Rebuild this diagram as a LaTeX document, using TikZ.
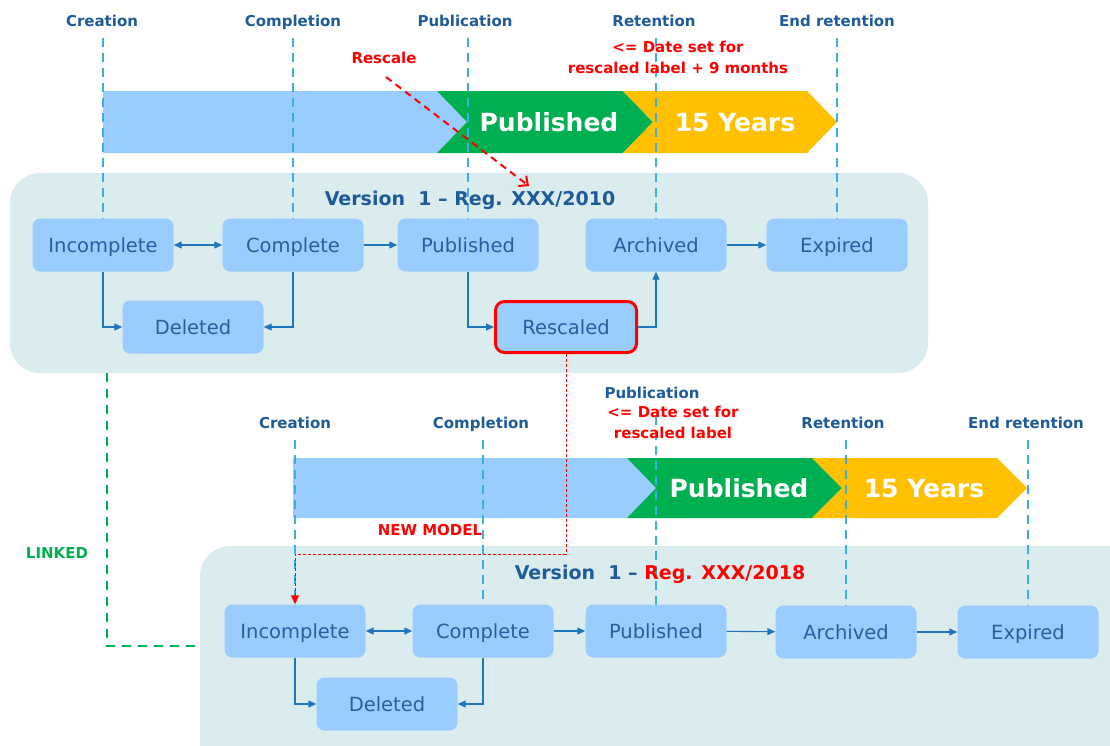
\documentclass[tikz,border=0pt]{standalone}
\usepackage{fontspec}
\setmainfont{DejaVu Sans}
\usetikzlibrary{arrows.meta,calc}
\definecolor{hdr}{HTML}{1F5B98}
\definecolor{vline}{HTML}{3DAEE3}
\definecolor{barblue}{HTML}{99CCFF}
\definecolor{bargreen}{HTML}{00B050}
\definecolor{baryellow}{HTML}{FFC000}
\definecolor{contfill}{HTML}{DAECEE}
\definecolor{nodefill}{HTML}{99CCFF}
\definecolor{nodetext}{HTML}{2A5E9C}
\definecolor{edgecol}{HTML}{1F76BD}
\definecolor{myred}{HTML}{FF0000}
\definecolor{mygreen}{HTML}{00B050}
\begin{document}
\begin{tikzpicture}[x=1pt,y=-1pt,
  state/.style={rounded corners=8pt, fill=nodefill, minimum width=141pt, minimum height=53pt, inner sep=0pt, text=nodetext, text height=16pt, text depth=1.5pt, font=\fontsize{19.5}{22}\selectfont},
  rescaledbox/.style={state, draw=myred, line width=3pt, minimum width=141pt, minimum height=51pt, rounded corners=9pt},
  cont/.style={rounded corners=30pt, fill=contfill, inner sep=0pt},
  hdrlabel/.style={text=hdr, font=\bfseries\fontsize{15}{18}\selectfont, inner sep=1pt, text height=11pt, text depth=3pt},
  redlabel/.style={text=myred, font=\bfseries\fontsize{15}{21}\selectfont, inner sep=1pt, align=center},
  title/.style={text=hdr, font=\bfseries\fontsize{19}{22}\selectfont, inner sep=1pt},
  bartext/.style={text=white, font=\bfseries\fontsize{25}{30}\selectfont, inner sep=0pt, text height=18pt, text depth=0pt},
  vdash/.style={draw=vline, line width=2pt, dash pattern=on 9pt off 6pt},
  conn/.style={draw=edgecol, line width=1.1pt, -{Triangle[length=8pt,width=7pt]}},
  biconn/.style={draw=edgecol, line width=1.1pt, {Triangle[length=8pt,width=7pt]}-{Triangle[length=8pt,width=7pt]}},
  reddash/.style={draw=myred, line width=1pt, dash pattern=on 3pt off 2pt, -{Triangle[length=9pt,width=8pt]}},
  bigreddash/.style={draw=myred, line width=2pt, dash pattern=on 7pt off 5pt, -{Straight Barb[length=7pt,width=13pt]}},
  greendash/.style={draw=mygreen, line width=2pt, dash pattern=on 9pt off 7pt}
]
\clip (0,0) rectangle (1110,745);
\fill[white] (0,0) rectangle (1110,745);

% containers
\node[cont, minimum width=918pt, minimum height=200pt] (v1) at (469,273) {};
\node[cont, minimum width=960pt, minimum height=260pt] (v2) at (680,676) {};

% top bar
\fill[barblue] (103,91) -- (437,91) -- (467,122) -- (437,153) -- (103,153) -- cycle;
\fill[bargreen] (437,91) -- (623,91) -- (653,122) -- (623,153) -- (437,153) -- (467,122) -- cycle;
\fill[baryellow] (623,91) -- (807,91) -- (837,122) -- (807,153) -- (623,153) -- (653,122) -- cycle;
\node[bartext] (b1p) at (549,122) {Published};
\node[bartext] (b1y) at (735,122) {15 Years};

% bottom bar
\fill[barblue] (293,458) -- (627,458) -- (656,488) -- (627,518) -- (293,518) -- cycle;
\fill[bargreen] (627,458) -- (812,458) -- (842,488) -- (812,518) -- (627,518) -- (656,488) -- cycle;
\fill[baryellow] (812,458) -- (997,458) -- (1027,488) -- (997,518) -- (812,518) -- (842,488) -- cycle;
\node[bartext] (b2p) at (739,488) {Published};
\node[bartext] (b2y) at (924,488) {15 Years};

% state node positions
\path
  (103,245) coordinate (i1pos)
  (293,245) coordinate (c1pos)
  (468,245) coordinate (p1pos)
  (656,245) coordinate (a1pos)
  (837,245) coordinate (e1pos)
  (295,631) coordinate (i2pos)
  (483,631) coordinate (c2pos)
  (656,631) coordinate (p2pos)
  (846,632) coordinate (a2pos)
  (1028,632) coordinate (e2pos);

% vertical dashed timeline lines
\draw[vdash] (i1pos |- 0,38) -- ($(i1pos)+(0,-26)$);
\draw[vdash] (c1pos |- 0,38) -- ($(c1pos)+(0,-26)$);
\draw[vdash] (p1pos |- 0,38) -- ($(p1pos)+(0,-26)$);
\draw[vdash] (a1pos |- 0,38) -- ($(a1pos)+(0,-26)$);
\draw[vdash] (e1pos |- 0,38) -- ($(e1pos)+(0,-26)$);
\draw[vdash] (i2pos |- 0,440) -- ($(i2pos)+(0,-26)$);
\draw[vdash] (c2pos |- 0,440) -- ($(c2pos)+(0,-26)$);
\draw[vdash] (p2pos |- 0,416) -- ($(p2pos)+(0,-26)$);
\draw[vdash] (a2pos |- 0,440) -- ($(a2pos)+(0,-26)$);
\draw[vdash] (e2pos |- 0,440) -- ($(e2pos)+(0,-26)$);

% state nodes
\node[state] (i1) at (i1pos) {Incomplete};
\node[state] (c1) at (c1pos) {Complete};
\node[state] (p1) at (p1pos) {Published};
\node[state] (a1) at (a1pos) {Archived};
\node[state] (e1) at (e1pos) {Expired};
\node[state] (d1) at (193,327) {Deleted};
\node[rescaledbox] (r1) at (566,327) {Rescaled};
\node[state] (i2) at (i2pos) {Incomplete};
\node[state] (c2) at (c2pos) {Complete};
\node[state] (p2) at (p2pos) {Published};
\node[state] (a2) at (a2pos) {Archived};
\node[state] (e2) at (e2pos) {Expired};
\node[state] (d2) at (387,704) {Deleted};

% titles
\node[title] (t1) at (470,200) {Version\hspace{0.35em} 1 – Reg. XXX/2010};
\node[title] (t2) at (660,574) {Version\hspace{0.35em} 1 – \textcolor{myred}{Reg. XXX/2018}};

% connectors top
\draw[biconn] (i1) -- (c1);
\draw[conn] (c1) -- (p1);
\draw[conn] (a1) -- (e1);
\draw[conn] (i1.south) |- (d1.west);
\draw[conn] (c1.south) |- (d1.east);
\draw[conn] (p1.south) |- (r1.west);
\draw[conn] (r1.east) -| (a1.south);

% connectors bottom
\draw[biconn] (i2) -- (c2);
\draw[conn] (c2) -- (p2);
\draw[conn] (p2) -- (a2);
\draw[conn] (a2) -- (e2);
\draw[conn] (i2.south) |- (d2.west);
\draw[conn] (c2.south) |- (d2.east);

% rescaled -> new model
\draw[reddash] (r1.south) |- ($(i2.north)+(0,-50)$) -- (i2.north);

% linked
\draw[greendash] (107,0 |- v1.south) |- (v2.west |- 0,646);
\node[text=mygreen, font=\bfseries\fontsize{15}{18}\selectfont, inner sep=1pt] (lk) at (57,553) {LINKED};

% header labels top
\node[hdrlabel] (h1) at (102,22) {Creation};
\node[hdrlabel] (h2) at (293,22) {Completion};
\node[hdrlabel] (h3) at (465,22) {Publication};
\node[hdrlabel] (h4) at (654,22) {Retention};
\node[hdrlabel] (h5) at (837,22) {End retention};
\node[redlabel] (dt1) at (678,57) {<= Date set for\\rescaled label + 9 months};

% header labels bottom
\node[hdrlabel] (g1) at (295,424) {Creation};
\node[hdrlabel] (g2) at (481,424) {Completion};
\node[hdrlabel] (g3) at (652,394) {Publication};
\node[hdrlabel] (g4) at (843,424) {Retention};
\node[hdrlabel] (g5) at (1026,424) {End retention};
\node[redlabel] (dt2) at (673,422) {<= Date set for\\rescaled label};
\node[redlabel] (nm) at (430,530) {NEW MODEL};

% rescale arrow
\node[redlabel] (rs) at (384,58) {Rescale};
\coordinate (rstart) at (386,77);
\coordinate (rtip) at (529,186);
\draw[bigreddash] (rstart) -- (rtip);
\end{tikzpicture}
\end{document}
